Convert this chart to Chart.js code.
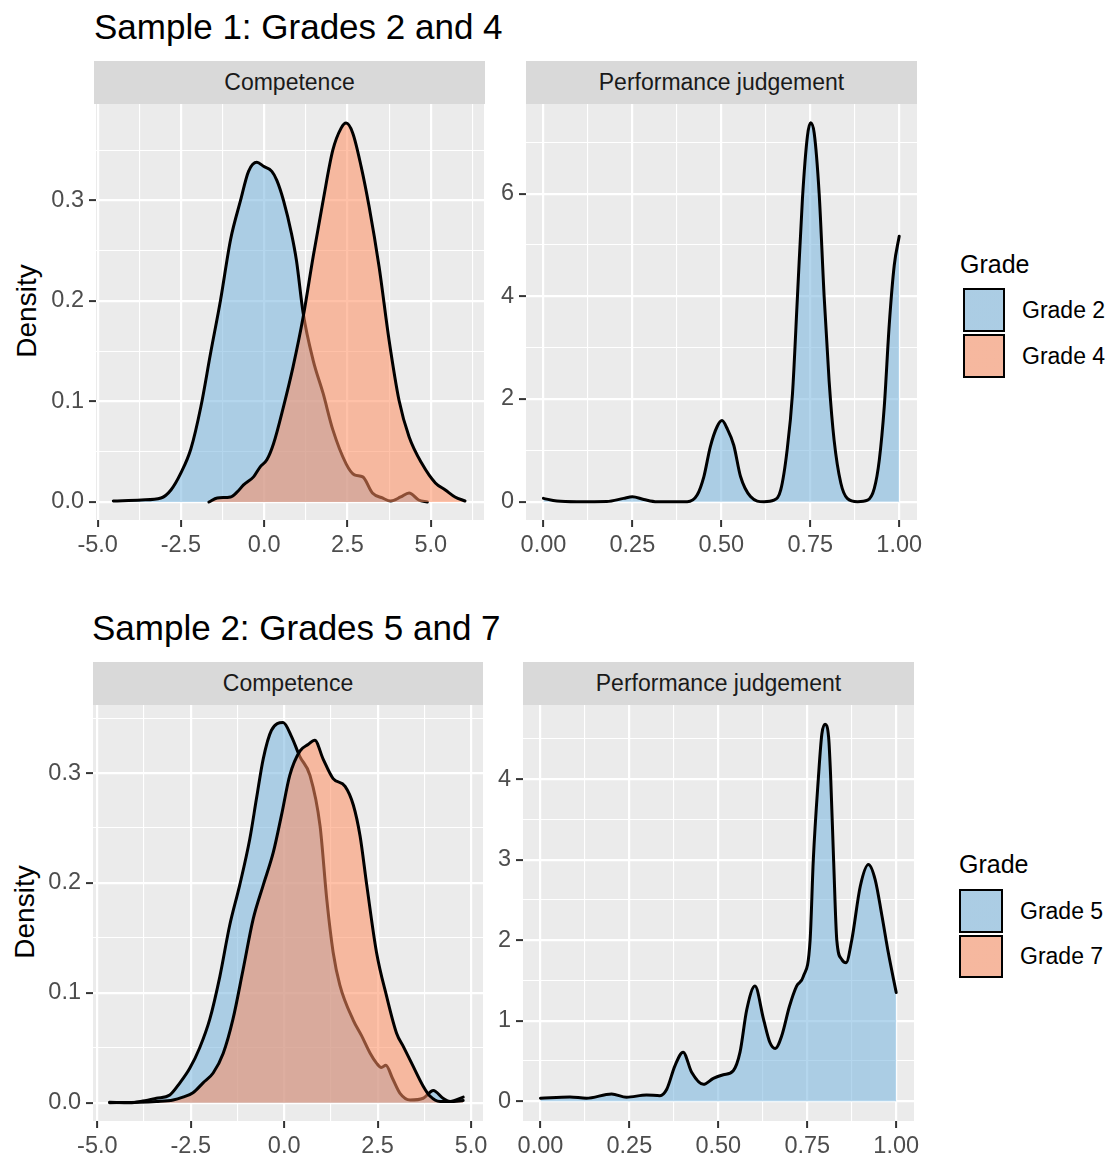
<!DOCTYPE html>
<html>
<head>
<meta charset="utf-8">
<script src="https://cdn.jsdelivr.net/npm/chart.js@4.4.1/dist/chart.umd.min.js"></script>
<style>
body { margin: 0; background: #fff; width: 1110px; height: 1157px; position: relative; overflow: hidden;
       font-family: "Liberation Sans", Arial, sans-serif; }
.abs { position: absolute; white-space: nowrap; }
.title { font-size: 35px; line-height: 35px; color: #000; }
.strip { background: #D9D9D9; color: #1A1A1A; font-size: 23px; display: flex; align-items: center; justify-content: center; }
.ytitle { font-size: 28px; line-height: 34px; width: 140px; height: 34px; text-align: center; color: #000; transform: rotate(-90deg); }
.legtitle { font-size: 25px; line-height: 25px; color: #000; }
.key { border: 2.5px solid #000; box-sizing: border-box; }
.keylab { font-size: 23px; color: #000; }
canvas { position: absolute; }
</style>
</head>
<body>

<div class="abs title" style="left:94px; top:9px;">Sample 1: Grades 2 and 4</div>
<div class="abs title" style="left:92px; top:610px;">Sample 2: Grades 5 and 7</div>

<div class="abs strip" style="left:94px; top:61px; width:391px; height:43px;">Competence</div>
<div class="abs strip" style="left:526px; top:61px; width:391px; height:43px;">Performance judgement</div>
<div class="abs strip" style="left:93px; top:662px; width:390px; height:43px;">Competence</div>
<div class="abs strip" style="left:523px; top:662px; width:391px; height:43px;">Performance judgement</div>

<div class="abs ytitle" style="left:-43px; top:294px;">Density</div>
<div class="abs ytitle" style="left:-45px; top:895px;">Density</div>

<div class="abs legtitle" style="left:960px; top:252px;">Grade</div>
<div class="abs key" id="k1" style="left:963px; top:288px; width:42px; height:44px;"></div>
<div class="abs key" id="k2" style="left:963px; top:334px; width:42px; height:44px;"></div>
<div class="abs keylab" style="left:1022px; top:288px; line-height:44px;">Grade 2</div>
<div class="abs keylab" style="left:1022px; top:334px; line-height:44px;">Grade 4</div>

<div class="abs legtitle" style="left:959px; top:852px;">Grade</div>
<div class="abs key" id="k3" style="left:959px; top:889px; width:44px; height:44px;"></div>
<div class="abs key" id="k4" style="left:959px; top:935px; width:44px; height:43px;"></div>
<div class="abs keylab" style="left:1020px; top:889px; line-height:44px;">Grade 5</div>
<div class="abs keylab" style="left:1020px; top:935px; line-height:43px;">Grade 7</div>

<canvas id="c1" width="456" height="460" style="left:40px; top:104px;"></canvas>
<canvas id="c2" width="439" height="460" style="left:490px; top:104px;"></canvas>
<canvas id="c3" width="458" height="452" style="left:37px; top:705px;"></canvas>
<canvas id="c4" width="439" height="452" style="left:487px; top:705px;"></canvas>

<script>
// Sample 1, competence
const s1CompG2X = [-4.53, -3.69, -3.1, -2.8, -2.5, -2.2, -1.9, -1.61, -1.31, -1.01, -0.71, -0.47, -0.22, -0.02, 0.23, 0.38, 0.58, 0.82, 0.97, 1.17, 1.47, 1.77, 2.06, 2.46, 2.71, 2.96, 3.25, 3.55, 3.8, 4.1, 4.35, 4.64, 4.9];
const s1CompG2Y = [0.001, 0.002, 0.004, 0.012, 0.029, 0.053, 0.095, 0.148, 0.201, 0.261, 0.300, 0.329, 0.338, 0.334, 0.329, 0.320, 0.300, 0.267, 0.240, 0.188, 0.141, 0.108, 0.072, 0.038, 0.027, 0.025, 0.009, 0.004, 0.001, 0.005, 0.009, 0.002, 0.000];
const s1CompG4X = [-1.66, -1.41, -1.01, -0.81, -0.62, -0.32, -0.12, 0.08, 0.28, 0.58, 0.87, 1.17, 1.47, 1.77, 2.06, 2.31, 2.46, 2.66, 2.91, 3.15, 3.45, 3.75, 4.05, 4.35, 4.74, 5.14, 5.44, 5.73, 6.03];
const s1CompG4Y = [0, 0.004, 0.005, 0.010, 0.017, 0.025, 0.035, 0.042, 0.058, 0.095, 0.135, 0.184, 0.244, 0.300, 0.350, 0.372, 0.377, 0.367, 0.334, 0.294, 0.234, 0.161, 0.101, 0.065, 0.038, 0.019, 0.012, 0.005, 0.001];

// Sample 1, performance judgement (grade 2 only)
const s1PerfG2X = [0, 0.038, 0.094, 0.178, 0.225, 0.25, 0.282, 0.319, 0.404, 0.432, 0.451, 0.469, 0.488, 0.502, 0.516, 0.535, 0.554, 0.582, 0.62, 0.648, 0.667, 0.685, 0.70, 0.714, 0.728, 0.742, 0.751, 0.761, 0.775, 0.789, 0.803, 0.817, 0.836, 0.854, 0.883, 0.911, 0.930, 0.944, 0.958, 0.972, 0.986, 1.0];
const s1PerfG2Y = [0.065, 0.013, 0, 0.005, 0.065, 0.098, 0.045, 0, 0, 0.13, 0.49, 1.07, 1.46, 1.58, 1.43, 1.1, 0.49, 0.10, 0, 0.03, 0.23, 1.01, 2.1, 4.0, 5.9, 7.12, 7.38, 7.18, 6.0, 4.0, 2.35, 1.2, 0.36, 0.065, 0, 0.03, 0.26, 0.81, 1.85, 3.45, 4.6, 5.17];

// Sample 2, competence
const s2CompG5X = [-4.67, -4.13, -3.78, -3.42, -3.06, -2.79, -2.53, -2.26, -1.99, -1.72, -1.46, -1.19, -0.92, -0.74, -0.56, -0.34, -0.03, 0.20, 0.42, 0.69, 0.96, 1.14, 1.31, 1.49, 1.85, 2.07, 2.30, 2.47, 2.60, 2.72, 2.90, 3.10, 3.37, 3.72, 3.99, 4.25, 4.44, 4.79];
const s2CompG5Y = [0.0003, 0, 0.0015, 0.004, 0.007, 0.018, 0.031, 0.050, 0.076, 0.115, 0.161, 0.198, 0.240, 0.277, 0.313, 0.339, 0.346, 0.333, 0.315, 0.298, 0.252, 0.185, 0.137, 0.107, 0.075, 0.061, 0.045, 0.036, 0.032, 0.034, 0.022, 0.0085, 0.0024, 0.004, 0.011, 0.004, 0.001, 0.005];
const s2CompG7X = [-4.67, -3.87, -3.42, -2.97, -2.71, -2.44, -2.17, -1.90, -1.63, -1.37, -1.10, -0.83, -0.56, -0.29, -0.07, 0.15, 0.42, 0.64, 0.82, 1.04, 1.31, 1.63, 1.85, 2.03, 2.21, 2.47, 2.74, 3.01, 3.19, 3.41, 3.72, 3.90, 4.17, 4.44, 4.79];
const s2CompG7Y = [0, 0.0003, 0.001, 0.0024, 0.005, 0.009, 0.018, 0.027, 0.045, 0.076, 0.121, 0.167, 0.198, 0.228, 0.262, 0.298, 0.320, 0.326, 0.330, 0.313, 0.295, 0.288, 0.271, 0.243, 0.198, 0.137, 0.097, 0.063, 0.051, 0.036, 0.015, 0.006, 0.001, 0.001, 0.002];

// Sample 2, performance judgement (grade 5 only)
const s2PerfG5X = [0, 0.083, 0.129, 0.2, 0.242, 0.298, 0.336, 0.355, 0.378, 0.401, 0.425, 0.458, 0.486, 0.514, 0.542, 0.561, 0.58, 0.603, 0.627, 0.645, 0.66, 0.678, 0.70, 0.72, 0.739, 0.758, 0.767, 0.781, 0.791, 0.80, 0.81, 0.816, 0.824, 0.833, 0.847, 0.859, 0.875, 0.899, 0.922, 0.941, 0.96, 0.978, 1.0];
const s2PerfG5Y = [0.037, 0.054, 0.037, 0.091, 0.05, 0.078, 0.07, 0.15, 0.44, 0.61, 0.36, 0.21, 0.285, 0.33, 0.38, 0.61, 1.14, 1.43, 1.02, 0.73, 0.656, 0.81, 1.18, 1.43, 1.55, 2.0, 3.0, 4.0, 4.56, 4.68, 4.52, 4.0, 3.0, 2.0, 1.76, 1.72, 2.0, 2.67, 2.94, 2.75, 2.30, 1.84, 1.35];

// axis ticks and labels
const compS1XTicks = [-5, -2.5, 0, 2.5, 5];
const compS1XLabels = ['-5.0', '-2.5', '0.0', '2.5', '5.0'];
const compS2XTicks = [-5, -2.5, 0, 2.5, 5];
const compS2XLabels = ['-5.0', '-2.5', '0.0', '2.5', '5.0'];
const perfXTicks = [0, 0.25, 0.5, 0.75, 1];
const perfXLabels = ['0.00', '0.25', '0.50', '0.75', '1.00'];
const compYTicks = [0, 0.1, 0.2, 0.3];
const compYLabels = ['0.0', '0.1', '0.2', '0.3'];
const perfS1YTicks = [0, 2, 4, 6];
const perfS1YLabels = ['0', '2', '4', '6'];
const perfS2YTicks = [0, 1, 2, 3, 4];
const perfS2YLabels = ['0', '1', '2', '3', '4'];

const FONT = '"Liberation Sans", Arial, sans-serif';
const lowFill = 'rgba(119,180,222,0.55)';
const highFill = 'rgba(255,142,96,0.55)';

// legend keys sit on the same grey as the panels
function keyBg(fill) {
    return 'linear-gradient(' + fill + ',' + fill + '), #EBEBEB';
}
document.getElementById('k1').style.background = keyBg(lowFill);
document.getElementById('k2').style.background = keyBg(highFill);
document.getElementById('k3').style.background = keyBg(lowFill);
document.getElementById('k4').style.background = keyBg(highFill);

// grey panel behind the plot
const panelBg = {
    id: 'panelBg',
    beforeDraw(chart) {
        const a = chart.chartArea;
        const c = chart.ctx;
        c.save();
        c.fillStyle = '#EBEBEB';
        c.fillRect(a.left, a.top, a.right - a.left, a.bottom - a.top);
        c.restore();
    }
};

function toPoints(xs, ys) {
    return xs.map((x, i) => ({ x: x, y: ys[i] }));
}

function densitySet(xs, ys, fill, order) {
    return {
        data: toPoints(xs, ys),
        borderColor: '#000000',
        borderWidth: 3,
        backgroundColor: fill,
        fill: 'origin',
        pointRadius: 0,
        cubicInterpolationMode: 'monotone',
        borderJoinStyle: 'round',
        borderCapStyle: 'round',
        order: order
    };
}

// ggplot style axis: labelled major lines plus thin minor lines halfway
function axis(min, max, major, labels, isX, size) {
    const step = major[1] - major[0];
    return {
        type: 'linear',
        min: min,
        max: max,
        afterBuildTicks: ax => {
            const list = major.map((v, i) => ({ value: v, isMajor: true, text: labels[i] }));
            [major[0] - step].concat(major).forEach(v => {
                const m = v + step / 2;
                if (m >= min && m <= max) list.push({ value: m, isMajor: false, text: '' });
            });
            ax.ticks = list.filter(t => t.value >= min && t.value <= max).sort((a, b) => a.value - b.value);
        },
        afterFit: ax => {
            if (isX) {
                ax.height = size;
                ax.paddingLeft = 0;
                ax.paddingRight = 0;
            } else {
                ax.width = size;
                ax.paddingTop = 0;
                ax.paddingBottom = 0;
            }
        },
        border: { display: false },
        grid: {
            color: '#FFFFFF',
            lineWidth: ctx => (ctx.tick && ctx.tick.isMajor) ? 2.2 : 1.1,
            drawTicks: true,
            tickLength: 7,
            tickWidth: 2,
            tickColor: ctx => (ctx.tick && ctx.tick.isMajor) ? '#333333' : 'rgba(0,0,0,0)'
        },
        ticks: {
            autoSkip: false,
            maxRotation: 0,
            minRotation: 0,
            color: '#4D4D4D',
            padding: isX ? 4 : 5,
            font: { size: 23.5, family: FONT },
            callback: (value, index, ticks) => ticks[index].text
        }
    };
}

function makePanel(id, datasets, xAxis, yAxis) {
    const ctx = document.getElementById(id).getContext('2d');
    return new Chart(ctx, {
        type: 'line',
        data: { datasets: datasets },
        options: {
            responsive: false,
            animation: false,
            devicePixelRatio: 1,
            events: [],
            layout: { padding: { left: 0, right: 12, top: 0, bottom: 0 } },
            plugins: { legend: { display: false }, tooltip: { enabled: false } },
            scales: { x: xAxis, y: yAxis }
        },
        plugins: [panelBg]
    });
}

makePanel('c1',
    [densitySet(s1CompG2X, s1CompG2Y, lowFill, 1), densitySet(s1CompG4X, s1CompG4Y, highFill, 0)],
    axis(-5.05, 6.6, compS1XTicks, compS1XLabels, true, 44),
    axis(-0.0179, 0.396, compYTicks, compYLabels, false, 56));

makePanel('c2',
    [densitySet(s1PerfG2X, s1PerfG2Y, lowFill, 0)],
    axis(-0.049, 1.05, perfXTicks, perfXLabels, true, 44),
    axis(-0.356, 7.745, perfS1YTicks, perfS1YLabels, false, 36));

makePanel('c3',
    [densitySet(s2CompG5X, s2CompG5Y, lowFill, 1), densitySet(s2CompG7X, s2CompG7Y, highFill, 0)],
    axis(-5.115, 5.32, compS2XTicks, compS2XLabels, true, 36),
    axis(-0.0167, 0.362, compYTicks, compYLabels, false, 56));

makePanel('c4',
    [densitySet(s2PerfG5X, s2PerfG5Y, lowFill, 0)],
    axis(-0.049, 1.05, perfXTicks, perfXLabels, true, 36),
    axis(-0.245, 4.92, perfS2YTicks, perfS2YLabels, false, 36));
</script>
</body>
</html>
